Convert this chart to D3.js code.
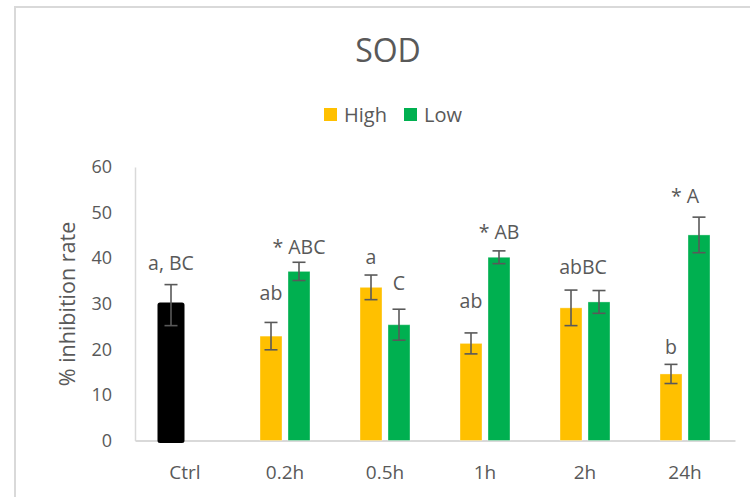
<!DOCTYPE html>
<html><head><meta charset="utf-8">
<script src="https://cdn.jsdelivr.net/npm/d3@7"></script>
<style>body{margin:0;background:#fff}svg{display:block}text{font-family:"Open Sans",sans-serif;fill:#595959}</style>
</head><body><svg id="c" width="750" height="497"></svg>
<script>
const categories = ["Ctrl","0.2h","0.5h","1h","2h","24h"];
const series = ["High","Low"];
const highValues = [29.7, 22.9, 33.6, 21.3, 29.1, 14.6];
const highErrors = [4.5, 3.0, 2.7, 2.3, 3.9, 2.1];
const lowValues = [null, 37.1, 25.4, 40.2, 30.4, 45.1];
const lowErrors = [null, 2.0, 3.4, 1.4, 2.5, 3.9];
const yTicks = [0,10,20,30,40,50,60];
// significance letters: category, series, text, y-level in data units
const letterCats = ["Ctrl","0.2h","0.2h","0.5h","0.5h","1h","1h","2h","24h","24h"];
const letterSeries = ["High","High","Low","High","Low","High","Low","Both","High","Low"];
const letterTexts = ["a, BC","ab","* ABC","a","C","ab","* AB","abBC","b","* A"];
const letterLevels = [37.4, 30.8, 41.0, 38.7, 33.0, 29.0, 44.3, 36.5, 18.9, 52.2];

const svg = d3.select("#c");
const colors = {High:"#FFC000", Low:"#00B050"};

// frame
svg.append("path").attr("d","M15,500 L15,7 L752,7").attr("fill","none").attr("stroke","#d9d9d9").attr("stroke-width",2);

const x = d3.scaleBand().domain(categories).range([135,735]).padding(0);
const xs = d3.scaleBand().domain(series).range([25,75]).paddingInner(6/28).paddingOuter(0);
const y = d3.scaleLinear().domain([0,60]).range([440.5,167]);

// title
svg.append("text").attr("x",388).attr("y",62).attr("text-anchor","middle").style("font-size","32px").text("SOD");

// legend
const lg = svg.append("g");
const legendX = [324, 404];
series.forEach((s,i)=>{
  lg.append("rect").attr("x",legendX[i]).attr("y",108).attr("width",13).attr("height",13).attr("fill",colors[s]);
  lg.append("text").attr("x",legendX[i]+20).attr("y",121.5).style("font-size","20px").text(s);
});

// axes
const yAxis = svg.append("g").attr("transform","translate(135,0)")
  .call(d3.axisLeft(y).tickValues(yTicks).tickSize(0).tickSizeOuter(0).tickPadding(23));
yAxis.select(".domain").attr("stroke","#d9d9d9").attr("stroke-width",1.5);
yAxis.selectAll("text").style("font-size","18px").attr("fill","#595959").style("font-family","'Open Sans',sans-serif");

const xAxis = svg.append("g").attr("transform","translate(0,440.5)")
  .call(d3.axisBottom(x).tickSize(0).tickSizeOuter(0).tickPadding(25));
xAxis.select(".domain").attr("stroke","#d9d9d9").attr("stroke-width",2);
xAxis.selectAll("text").style("font-size","19px").attr("fill","#595959").style("font-family","'Open Sans',sans-serif");

// y title
svg.append("text").attr("transform","translate(75,304) rotate(-90)").attr("text-anchor","middle").style("font-size","21.5px").text("% inhibition rate");

// bars
const barData = [];
categories.forEach((c,i)=>{
  if (highValues[i]!=null) barData.push({c, s:"High", v:highValues[i], e:highErrors[i], ctrl: c==="Ctrl"});
  if (lowValues[i]!=null) barData.push({c, s:"Low", v:lowValues[i], e:lowErrors[i], ctrl:false});
});
const g = svg.append("g");
g.selectAll("rect.bar").data(barData).join("rect").attr("class","bar")
  .attr("x", d=>x(d.c)+xs(d.s)).attr("width", xs.bandwidth())
  .attr("y", d=>y(d.v)).attr("height", d=>y(0)-y(d.v))
  .attr("fill", d=>d.ctrl?"#000":colors[d.s])
  .attr("stroke", d=>d.ctrl?"#000":"#ffffff")
  .attr("stroke-opacity", d=>d.ctrl?1:0.35)
  .attr("stroke-width", d=>d.ctrl?5:1)
  .attr("stroke-linejoin","round");

// error bars
const eg = svg.append("g").attr("stroke","#595959").attr("stroke-width",1.6).attr("fill","none");
barData.forEach(d=>{
  const cx = x(d.c)+xs(d.s)+xs.bandwidth()/2;
  const t = y(d.v+d.e), b = y(d.v-d.e);
  eg.append("line").attr("x1",cx).attr("x2",cx).attr("y1",t).attr("y2",b);
  eg.append("line").attr("x1",cx-6.5).attr("x2",cx+6.5).attr("y1",t).attr("y2",t);
  eg.append("line").attr("x1",cx-6.5).attr("x2",cx+6.5).attr("y1",b).attr("y2",b);
});

// letters
letterTexts.forEach((t,i)=>{
  const c = letterCats[i], s = letterSeries[i];
  let cx = s==="Both" ? x(c)+x.bandwidth()/2 - 2 : x(c)+xs(s)+xs.bandwidth()/2;
  if (t==="* A") cx -= 14;
  svg.append("text").attr("x",cx).attr("y",y(letterLevels[i])).attr("text-anchor","middle")
    .style("font-size","19.5px").text(t);
});
</script></body></html>
